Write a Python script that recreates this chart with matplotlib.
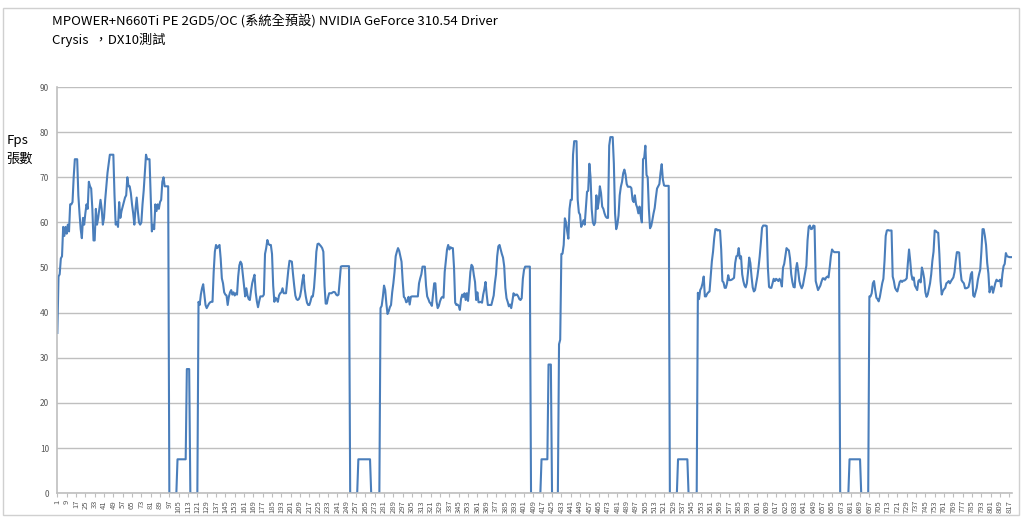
import matplotlib
matplotlib.use('Agg')
import matplotlib.pyplot as plt
from matplotlib.patches import Rectangle
import numpy as np

plt.rcParams['font.family'] = ['Noto Sans CJK TC', 'DejaVu Sans']
BLUE = '#4A7EBB'; GRID = '#BFBFBF'; TXT = '#595959'

title1 = 'MPOWER+N660Ti PE 2GD5/OC (系統全預設) NVIDIA GeForce 310.54 Driver'
title2 = 'Crysis  ，DX10測試'
ylabel = 'Fps\n張數'

# fps readings, run by run (pixel-read estimates)
run1 = [35.5, 48, 48.5, 52, 52.5, 59, 57, 59, 57.5, 59.5,
        58, 64, 64, 64.5, 70, 74, 74, 74, 66, 62,
        58.5, 56.5, 61, 59.5, 62, 64, 63, 69, 68, 67.5,
        63, 56, 56, 63, 59.5, 61, 63, 65, 63, 59.5,
        61, 65, 68, 71, 73, 75, 75, 75, 75, 66,
        59.5, 60, 59, 64.5, 61, 62.5, 63.5, 64.5, 65.5, 66,
        70, 68, 68, 66.5, 64, 62, 59.5, 63, 65.5, 62.5,
        60, 59.5, 60, 64, 67, 71, 75, 74, 74, 74,
        66, 58, 59.5, 58.5, 64, 62.5, 64, 63, 64.5, 65,
        69, 70, 68, 68, 68, 68]
load1 = [0, 0, 0, 0, 0, 0, 0, 7.5, 7.5, 7.5, 7.5, 7.5, 7.5, 7.5, 7.5,
         27.5, 27.5, 27.5, 0, 0, 0, 0, 0, 0, 0]
run2 = [42.4, 41.7, 44, 45.4, 46.3, 44, 41.7, 41, 41.5, 42,
        42.3, 42.4, 42.4, 49, 53.5, 55, 54.3, 54.7, 55, 52,
        47.6, 46.5, 44.5, 44, 43.8, 41.7, 43.5, 44.5, 45, 44,
        44.5, 43.8, 44.3, 44, 48, 50.5, 51.3, 50.8, 48.5, 46,
        43.6, 45.4, 43.8, 43, 42.8, 44.8, 46.5, 47.5, 48.4, 44.5,
        42.5, 41.2, 42.5, 43.6, 43.6, 43.6, 44, 53, 54.3, 56.1,
        55.2, 55, 55, 53, 46, 42.4, 43.3, 43, 42.4, 43.8,
        44.3, 44.5, 45.4, 44.3, 44.3, 44.3, 47, 49.5, 51.5, 51.4,
        51.3, 48.5, 46, 43.8, 43, 42.8, 43, 43.6, 45, 47,
        48.4, 45.3, 43.5, 42.2, 41.7, 41.7, 42.5, 43.6, 43.6, 45.5,
        49, 53.5, 55.2, 55.3, 55, 54.7, 54.3, 53.5, 46, 42,
        42, 43.3, 44.3, 44.3, 44.3, 44.5, 44.6, 44.5, 44, 43.8,
        44, 47, 50.2, 50.3, 50.3, 50.3, 50.3, 50.3, 50.3, 50.3]
load2 = [0, 0, 0, 0, 0, 0, 0, 7.5, 7.5, 7.5, 7.5, 7.5, 7.5, 7.5, 7.5, 7.5,
         7.5, 7.5, 0, 0, 0, 0, 0, 0, 0, 0]
run3 = [41, 41.5, 43.5, 46, 45, 42, 39.7, 40.3, 41.2, 41.7,
        44.5, 46.5, 49, 52.5, 53.5, 54.3, 53.7, 52.5, 51.3, 47,
        43.5, 43.2, 42.3, 42.5, 43.5, 41.8, 43.5, 43.6, 43.6, 43.6,
        43.6, 43.6, 43.6, 46.5, 47.6, 48.5, 50.2, 50.2, 50.2, 46,
        43.6, 43, 42.3, 42, 41.5, 44, 46.5, 46.5, 42.5, 41,
        41.5, 42.5, 43.2, 43.5, 43.3, 49, 51.5, 54, 55, 54,
        54.5, 54.3, 54.3, 50, 42.2, 41.7, 41.8, 41.5, 40.6, 43,
        44, 43.5, 44.3, 42.8, 44.3, 42.6, 45.5, 49, 50.6, 50.2,
        48.3, 46.8, 42.8, 44.5, 42.3, 42.3, 42.4, 42.2, 44, 45.2,
        46.8, 44, 41.7, 41.7, 41.7, 41.7, 42.8, 43.8, 46.5, 48.5,
        52.5, 54.7, 55, 54, 53, 52.2, 50.3, 45.5, 43.2, 42.4,
        41.4, 41.8, 41, 42.5, 44.3, 43.8, 44, 44, 43.6, 43,
        42.8, 43.2, 47.5, 49.5, 50.2, 50.2, 50.2, 50.2, 50.2]
load3 = [0, 0, 0, 0, 0, 0, 0, 0, 0, 7.5, 7.5, 7.5, 7.5, 7.5, 7.5,
         28.5, 28.5, 28.5, 0, 0, 0, 0, 0, 0]
run4 = [33, 34, 53, 53.1, 55, 60.9, 60, 58, 56.4, 63,
        65, 65, 75, 78, 78, 78, 65, 62.2, 61.7, 59,
        59.7, 60.5, 59.5, 63, 66.8, 67, 73, 70, 63, 60,
        59.4, 60, 66, 63, 64.5, 68, 66.5, 63.5, 63, 62,
        61.3, 61, 61, 77, 78.9, 78.9, 78.9, 73, 62, 58.5,
        59.5, 61.5, 66, 67.9, 69, 70.9, 71.7, 70.6, 68.5, 67.9,
        67.9, 67.9, 67.6, 65, 64.5, 66, 64, 63.3, 62, 63.5,
        61.5, 60, 74, 74.3, 77, 70.5, 70, 63, 58.7, 59.2,
        60.5, 62, 63.2, 65.5, 67.5, 68, 68.5, 71, 72.9, 69.5,
        68.2, 68.1, 68.1, 68.1, 68.1]
load4 = [0, 0, 0, 0, 0, 0, 0, 7.5, 7.5, 7.5, 7.5, 7.5, 7.5, 7.5, 7.5, 7.5,
         0, 0, 0, 0, 0, 0, 0, 0]
run5 = [44.4, 43, 45, 45.5, 46.5, 48, 43.6, 43.6, 44.2, 44.5,
        44.7, 48, 51.4, 53.5, 56.5, 58.5, 58.5, 58.2, 58.3, 58.2,
        54, 47, 46.7, 45.5, 45.5, 46.5, 48.3, 47.2, 47.2, 47.3,
        47.5, 47.7, 51, 52.5, 52.6, 54.3, 52, 52.5, 48.5, 47,
        46, 45.6, 46.5, 49, 52.2, 51, 48, 45.6, 44.7, 45,
        46.5, 48, 50, 52.5, 55.5, 58.8, 59.3, 59.3, 59.3, 59.2,
        50, 45.7, 45.5, 45.5, 46.5, 47.5, 47, 47.5, 47.3, 47,
        47.5, 47, 45.8, 50, 50.8, 52.5, 54.3, 54, 53.8, 52,
        48.5, 46.8, 45.7, 45.6, 49.5, 51, 49.2, 47, 46, 45.4,
        46, 47.5, 49, 50.4, 56, 59, 59.3, 58.5, 58.6, 59.3,
        59.2, 47, 46, 45, 45.5, 46, 46.9, 47.6, 47.6, 47.3,
        47.8, 48, 47.8, 50, 52.5, 54, 53.6, 53.4, 53.4, 53.4,
        53.4, 53.4]
load5 = [0, 0, 0, 0, 0, 0, 0, 0, 7.5, 7.5, 7.5, 7.5, 7.5, 7.5, 7.5, 7.5,
         7.5, 7.5, 0, 0, 0, 0, 0, 0, 0]
run6 = [43.6, 43.6, 44.3, 46.5, 47, 45, 43.3, 43, 42.5, 43.5,
        45, 46.5, 47.5, 51.5, 57, 58.2, 58.3, 58.2, 58.2, 58.2,
        48, 47, 45.5, 45, 44.7, 45.8, 46.8, 47.1, 46.8, 47.1,
        47.1, 47.3, 47.6, 51, 54, 51.5, 48.5, 47.3, 47.8, 46,
        45.5, 45, 47, 47.3, 46.7, 50, 49, 47.5, 44.5, 43.5,
        44, 45.2, 46.5, 48.5, 51.5, 53.5, 58.2, 58.1, 57.8, 57.7,
        53, 47, 44, 44.8, 45.2, 45.5, 46.5, 46.7, 47, 46.5,
        47, 47.4, 47.8, 49, 51.5, 53.4, 53.4, 53.3, 49.5, 47.2,
        46.8, 46.5, 45.4, 45.4, 45.5, 45.7, 46.8, 48.5, 49, 43.8,
        43.5, 44.5, 45.5, 47.3, 48.5, 49.5, 53.5, 58.5, 58.5, 57,
        55, 51, 48.7, 44.5, 45.5, 45.8, 44.4, 45.5, 46.6, 47.3,
        47, 47, 47.3, 45.8, 48.5, 50.3, 50.8, 53.2, 52.5, 52.4,
        52.3, 52.3, 52.3]

fps = np.array(run1 + load1 + run2 + load2 + run3 + load3 +
               run4 + load4 + run5 + load5 + run6)
frames = np.arange(1, len(fps) + 1)
xticks = frames[::8]

fig = plt.figure(figsize=(10.24, 5.18), dpi=100)
ax = fig.add_axes([0.056, 0.048, 0.932, 0.784])
ax.plot(frames, fps, color=BLUE, lw=1.5)
ax.set_xlim(1, len(fps))
ax.set_ylim(0, 90)
ax.set_yticks(np.arange(0, 91, 10))
ax.set_xticks(xticks)
ax.set_xticklabels([str(v) for v in xticks], rotation=90, fontsize=5.5, color=TXT)
ax.tick_params(axis='y', labelsize=6, colors=TXT, length=0, pad=6)
ax.tick_params(axis='x', length=3, color=GRID, pad=2)
ax.grid(axis='y', color=GRID, lw=1)
ax.set_axisbelow(True)
for s in ['top', 'right']:
    ax.spines[s].set_visible(False)
ax.spines['left'].set_color(GRID)
ax.spines['bottom'].set_color(GRID)
ax.spines['left'].set_linewidth(1.2)
ax.spines['bottom'].set_linewidth(1.2)

fig.text(0.051, 0.96, title1, fontsize=9.5, color='black', va='center')
fig.text(0.051, 0.922, title2, fontsize=9.5, color='black', va='center')
fig.text(0.006, 0.71, ylabel, fontsize=9.5, color='black', va='center', linespacing=1.6)

fig.patches.append(Rectangle((0.003, 0.005), 0.992, 0.98, transform=fig.transFigure,
                             fill=False, ec='#D0D0D0', lw=1))
plt.savefig('out.png', dpi=100)
plt.close()
